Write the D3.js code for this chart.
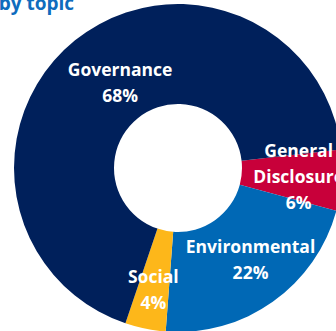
<!DOCTYPE html>
<html>
<head>
<meta charset="utf-8">
<script src="https://cdn.jsdelivr.net/npm/d3@7"></script>
<style>
  html, body { margin: 0; padding: 0; background: #fff; overflow: hidden; }
  svg { display: block; font-family: "Open Sans", sans-serif; }
</style>
</head>
<body>
<svg id="canvas" width="336" height="331"></svg>
<script>
// data
var topics  = ['General Disclosure', 'Environmental', 'Social', 'Governance'];
var shares  = [6, 22, 4, 68];
var labelLines = [['General', 'Disclosure'], ['Environmental'], ['Social'], ['Governance']];
var colors  = ['#C8003A', '#0068B5', '#FDB71A', '#00205B'];

var chart = {};
chart.width = 336, chart.height = 331;
chart.cx = 178, chart.cy = 168;
chart.outer = 164, chart.inner = 64;

// label placement (radius from centre, small angle nudge in degrees)
var labelRadius = [121, 117, 124, 103];
var labelTurn   = [0, -3, 0, 4.7];

var svg = d3.select('#canvas');

// title (cut off at the left in the original)
svg.append('text')
  .attr('x', 74).attr('y', 10)
  .attr('text-anchor', 'end')
  .style('font-size', '19px').style('font-weight', 700)
  .style('fill', '#0F6CBD')
  .text('by topic');

chart.origin = svg.append('g').attr('transform', 'translate(' + chart.cx + ',' + chart.cy + ')');

var pie = d3.pie().sort(null)
  .startAngle(83.5 * Math.PI / 180)
  .endAngle(443.5 * Math.PI / 180);
var arcs = pie(shares);

var arcGen = d3.arc().innerRadius(chart.inner).outerRadius(chart.outer);

chart.origin.selectAll('path.slice').data(arcs).enter().append('path')
  .attr('class', 'slice')
  .attr('d', arcGen)
  .attr('fill', function(d, i) { return colors[i]; });

// labels
var lineH = 26;
var labels = chart.origin.selectAll('g.lbl').data(arcs).enter().append('g')
  .attr('class', 'lbl')
  .attr('transform', function(d, i) {
    var a = (d.startAngle + d.endAngle) / 2 + labelTurn[i] * Math.PI / 180;
    var r = labelRadius[i];
    return 'translate(' + (Math.sin(a) * r) + ',' + (-Math.cos(a) * r) + ')';
  });

labels.each(function(d, i) {
  var lines = labelLines[i].concat([shares[i] + '%']);
  var g = d3.select(this);
  var top = -(lines.length - 1) * lineH / 2;
  lines.forEach(function(t, k) {
    g.append('text')
      .attr('x', 0).attr('y', top + k * lineH)
      .attr('dy', '0.35em')
      .attr('text-anchor', 'middle')
      .style('font-size', '17.5px').style('font-weight', 700)
      .style('fill', '#fff')
      .text(t);
  });
});
</script>
</body>
</html>
